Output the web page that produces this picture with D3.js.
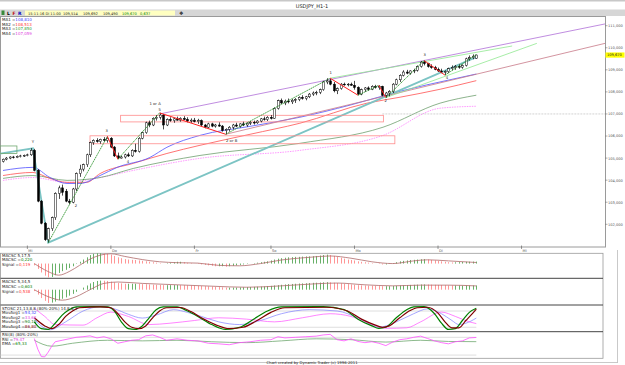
<!DOCTYPE html>
<html>
<head>
<meta charset="utf-8">
<script src="https://cdn.jsdelivr.net/npm/d3@7"></script>
<style>
body { margin: 0; background: #fff; }
svg { display: block; font-family: "DejaVu Sans", sans-serif; }
text { font-size: 4px; fill: #222; }
</style>
</head>
<body>
<svg id="chart" width="625" height="365"></svg>
<script>
// ---- data (hourly USDJPY, candle index 0..136) ----
var candles = [
  [104.85,104.98,104.80,104.95],[104.95,105.05,104.90,105.00],[105.00,105.08,104.95,105.05],[105.05,105.10,104.98,105.02],
  [105.02,105.12,105.00,105.08],[105.08,105.15,105.03,105.10],[105.10,105.16,105.05,105.12],[105.12,105.20,105.08,105.15],
  [105.15,105.45,105.10,105.35],[105.35,105.42,104.40,104.45],[104.45,104.50,103.00,103.05],[103.05,103.10,102.00,102.05],
  [102.05,102.10,101.25,101.30],[101.30,101.85,101.17,101.80],[101.80,102.35,101.70,102.30],[102.30,103.45,102.20,103.40],
  [103.40,103.75,103.15,103.65],[103.65,103.80,103.30,103.45],[103.50,103.60,103.00,103.05],[103.05,103.15,102.90,103.00],
  [103.00,103.65,102.95,103.60],[103.60,104.35,103.50,104.30],[104.30,104.70,104.15,104.50],[104.50,104.75,104.40,104.70],
  [104.70,105.20,104.60,105.15],[105.15,105.75,105.05,105.70],[105.70,105.85,105.60,105.80],[105.80,105.90,105.70,105.75],
  [105.75,105.88,105.65,105.85],[105.85,105.95,105.75,105.80],[105.80,105.98,105.70,105.90],[105.90,105.95,105.45,105.50],
  [105.50,105.55,105.05,105.10],[105.10,105.25,104.95,105.00],[105.00,105.10,104.98,105.05],[105.05,105.20,104.98,105.15],
  [105.15,105.25,105.05,105.10],[105.10,105.40,105.05,105.35],[105.35,105.65,105.25,105.30],[105.30,105.95,105.25,105.90],
  [105.90,106.20,105.85,106.15],[106.15,106.65,106.10,106.60],[106.60,106.70,106.40,106.50],[106.50,106.85,106.45,106.80],
  [106.80,106.95,106.70,106.85],[106.85,107.05,106.75,106.95],[106.95,107.00,106.30,106.50],[106.50,106.80,106.45,106.75],
  [106.75,106.85,106.65,106.70],[106.70,106.82,106.60,106.78],[106.78,106.88,106.70,106.72],[106.72,106.85,106.65,106.80],
  [106.80,106.90,106.72,106.75],[106.75,106.85,106.62,106.68],[106.68,106.80,106.60,106.72],[106.72,106.82,106.62,106.65],
  [106.65,106.78,106.55,106.70],[106.70,106.75,106.45,106.50],[106.50,106.55,106.35,106.40],[106.40,106.60,106.35,106.55],
  [106.55,106.60,106.40,106.45],[106.45,106.55,106.38,106.50],[106.50,106.62,106.42,106.45],[106.45,106.50,106.20,106.25],
  [106.25,106.35,106.08,106.30],[106.30,106.45,106.20,106.40],[106.40,106.55,106.30,106.50],[106.50,106.60,106.40,106.45],
  [106.45,106.58,106.38,106.55],[106.55,106.65,106.45,106.50],[106.50,106.62,106.42,106.58],[106.58,106.68,106.50,106.62],
  [106.62,106.70,106.52,106.60],[106.60,106.72,106.55,106.68],[106.68,106.82,106.62,106.78],[106.78,106.88,106.70,106.75],
  [106.75,106.90,106.68,106.85],[106.85,106.95,106.75,106.80],[106.80,107.30,106.78,107.25],[107.25,107.65,107.20,107.60],
  [107.60,107.70,107.45,107.50],[107.50,107.65,107.40,107.58],[107.58,107.70,107.48,107.55],[107.55,107.68,107.45,107.62],
  [107.62,107.72,107.50,107.65],[107.65,107.80,107.58,107.75],[107.75,107.85,107.65,107.70],[107.70,107.82,107.62,107.78],
  [107.78,107.95,107.72,107.90],[107.90,108.02,107.82,107.95],[107.95,108.05,107.85,107.98],[107.98,108.15,107.90,108.10],
  [108.10,108.50,108.05,108.45],[108.45,108.62,108.35,108.50],[108.50,108.60,108.30,108.35],[108.35,108.45,107.98,108.05],
  [108.05,108.20,107.90,108.15],[108.15,108.40,108.10,108.35],[108.35,108.42,108.28,108.32],[108.32,108.40,108.25,108.35],
  [108.35,108.42,108.28,108.30],[108.30,108.50,108.10,108.20],[108.20,108.25,107.85,107.90],[107.90,108.15,107.85,108.10],
  [108.10,108.22,108.00,108.18],[108.18,108.25,108.05,108.12],[108.12,108.30,108.08,108.25],[108.25,108.32,108.15,108.20],
  [108.20,108.30,108.10,108.25],[108.25,108.28,107.80,107.85],[107.85,108.00,107.74,107.95],[107.95,108.08,107.80,108.02],
  [108.02,108.40,107.95,108.35],[108.35,108.60,108.30,108.55],[108.55,108.80,108.45,108.75],[108.75,108.98,108.70,108.90],
  [108.90,109.00,108.80,108.85],[108.85,108.98,108.78,108.95],[108.95,109.05,108.85,108.98],[108.98,109.20,108.92,109.15],
  [109.15,109.40,109.10,109.35],[109.35,109.42,109.20,109.28],[109.28,109.32,109.10,109.15],[109.15,109.25,109.05,109.10],
  [109.10,109.18,108.98,109.02],[109.02,109.10,108.90,108.95],[108.95,109.05,108.85,108.90],[108.90,108.98,108.76,108.92],
  [108.92,109.10,108.85,109.05],[109.05,109.20,108.98,109.10],[109.10,109.22,109.00,109.15],[109.15,109.25,109.05,109.12],
  [109.12,109.25,109.05,109.20],[109.20,109.55,109.15,109.50],[109.50,109.65,109.42,109.55],[109.55,109.70,109.48,109.62],
  [109.514,109.692,109.490,109.670]
];

// moving averages, sampled [index, price]
var ma1 = [[0,104.44],[8.6,104.58],[13.5,104.12],[18.4,103.85],[22.1,103.85],[27.9,104.21],[32.8,104.58],[42.2,105.03],[47.1,105.49],[56.6,106.03],[71,106.44],[85.3,106.85],[99.7,107.40],[114.1,108.03],[129.3,108.58],[136,108.81]];
var ma2 = [[0,104.21],[8.6,104.35],[13.5,104.08],[18.4,103.90],[24,103.90],[27.9,104.30],[37.4,104.76],[47.1,105.21],[56.6,105.58],[71,106.08],[85.3,106.58],[104.6,107.49],[114.1,107.76],[125.6,108.12],[136,108.51]];
var ma3 = [[0,104.08],[8.6,104.21],[18.4,103.99],[27.9,104.12],[37.4,104.53],[56.6,105.12],[85.3,105.67],[109.2,106.40],[125.6,107.49],[136,107.85]];
var ma4 = [[0,103.99],[8.6,104.12],[18.4,103.90],[27.9,104.12],[37.4,104.44],[56.6,104.99],[85.3,105.35],[109.2,106.03],[125.6,107.26],[136,107.35]];

// drawn objects, [index, price]
var tealLine = [[-0.9,105.20],[8.6,105.44],[13,101.17],[136.3,109.60]];
var purpleLine = [[45,107.00],[173,111.08]];
var roseLine = [[64,106.08],[173,110.20]];
var greenLine1 = [[94,108.62],[146.3,110.08]];
var greenLine2 = [[110,107.74],[153.4,110.20]];
var levelLine = [[109,107.0],[173,107.0]];
var waves = [[13,101.17],[30,105.98],[33,104.95],[45,107.05],[64,106.08],[94,108.62],[102,107.85],[108,108.30],[110,107.74],[121,109.42],[127,108.76],[136,109.69]];
var boxes = [[33.8,106.94,109.3,106.64],[25,106.01,112.6,105.65]];
var greenBox = [-0.9,105.55,4,105.21];
var waveLabels = [["Y",8.6,105.68],["2",21,102.8],["3",29.8,106.2],["4",35.9,104.8],["1 or A",43.7,107.40],["5",45,107.13],["2 or B",65.7,105.75],["1",94.2,108.82],["2",110,107.55],["3",121.2,109.62],["4",127.6,108.57]];

var priceTicks = [111,110,109,108,107,106,105,104,103,102];
var dayTicks = [7,31,55,77,101,125,149];
var dayLabels = ["Mi","Do","Fr","So","Mo","Di","Mi"];

// MACSC 5,17,5 histogram, index 9..136
var macd1 = [-0.2,-0.6,-1.0,-1.35,-1.55,
  -1.5,-1.3,-1.05,-0.85,-0.7,-0.5,-0.3,-0.05,0.2,0.45,0.7,0.95,1.1,1.2,
  1.22,1.18,1.12,1.0,0.85,0.7,0.6,0.5,0.45,0.42,0.4,0.35,0.3,0.25,0.2,0.15,0.1,0.05,
  0.0,0.05,0.1,0.15,0.2,0.2,0.15,0.1,0.05,0.0,-0.05,
  -0.1,-0.15,-0.2,-0.25,-0.3,-0.3,-0.3,-0.35,-0.3,-0.25,
  -0.2,-0.15,-0.1,-0.05,0.0,0.05,0.1,0.15,0.2,0.25,0.35,0.45,0.55,
  0.6,0.65,0.7,0.72,0.75,0.75,0.78,0.8,0.8,0.82,0.85,0.9,0.95,1.0,0.95,
  0.85,0.75,0.65,0.55,0.45,0.4,0.35,0.25,0.2,0.15,0.1,0.05,0.0,-0.05,
  -0.1,-0.1,-0.05,0.05,0.15,0.25,0.3,0.35,0.4,0.42,0.45,0.48,0.5,
  0.45,0.4,0.35,0.3,0.25,0.2,0.15,0.12,0.14,0.16,0.18,0.2,0.21,0.22,0.22];
var signal1 = [[9,0],[13,-0.9],[16,-1.3],[19,-0.9],[22,-0.2],[25,0.5],[28,0.95],[31,1.1],[35,0.8],[40,0.45],[45,0.2],[50,0.1],[56,0.05],[62,-0.2],[68,-0.25],[74,0],[80,0.4],[88,0.7],[94,0.85],[100,0.6],[106,0.2],[112,0],[118,0.3],[122,0.42],[128,0.3],[136,0.12]];

// MACSC 5,34,5 histogram, index 9..136
var macd2 = [-0.2,-0.7,-1.2,-1.6,-1.9,
  -1.85,-1.7,-1.5,-1.3,-1.1,-0.85,-0.6,-0.3,0.0,0.3,0.6,0.9,1.1,1.25,
  1.3,1.28,1.25,1.15,1.05,0.95,0.9,0.85,0.85,0.85,0.85,0.82,0.8,0.78,0.75,0.72,0.7,0.68,
  0.65,0.65,0.65,0.66,0.66,0.65,0.64,0.62,0.6,0.58,0.55,
  0.52,0.5,0.47,0.44,0.4,0.37,0.34,0.3,0.3,0.3,
  0.3,0.32,0.34,0.36,0.38,0.4,0.42,0.44,0.46,0.5,0.55,0.6,0.65,
  0.7,0.75,0.8,0.82,0.85,0.88,0.9,0.92,0.95,0.98,1.0,1.02,1.05,1.08,1.05,
  1.0,0.95,0.9,0.85,0.8,0.75,0.7,0.65,0.62,0.6,0.58,0.56,0.54,0.52,
  0.5,0.5,0.5,0.52,0.55,0.6,0.62,0.65,0.68,0.7,0.72,0.74,0.75,
  0.74,0.72,0.7,0.68,0.66,0.64,0.62,0.6,0.6,0.6,0.6,0.6,0.6,0.6,0.6];
var signal2 = [[9,0],[13,-1.0],[17,-1.5],[21,-1.0],[25,0.0],[29,0.9],[33,1.1],[40,0.9],[50,0.7],[60,0.5],[70,0.35],[80,0.55],[90,0.85],[96,0.95],[104,0.7],[112,0.55],[120,0.65],[128,0.65],[136,0.54]];

// STOSC lines, [index, value]
var stoBlue = [[9,48],[13.5,11],[18,40],[23,80],[28,96],[32,88],[36,68],[40,54],[44,65],[49,85],[53,75],[57,60],[62,40],[68,30],[74,45],[80,70],[88,85],[96,80],[102,55],[108,20],[113,40],[118,70],[122,88],[126,70],[129,45],[131,30],[133,35],[136,54]];
var stoPink = [[9,90],[12,60],[15,30],[23,28],[27,55],[31,76],[36,60],[42,30],[48,35],[55,45],[62,55],[70,50],[78,40],[86,55],[94,70],[100,60],[106,30],[110,16],[116,18],[120,40],[126,76],[130,60],[134,40],[136,33.6]];
var stoGreen = [[9,40],[11,15],[13,12],[15,35],[17,65],[19,85],[21,95],[26,96],[30,95],[32,80],[34,40],[36,15],[38,12],[40,25],[42,55],[44,85],[46,95],[50,95],[53,80],[56,60],[60,30],[64,12],[68,20],[72,50],[76,80],[80,95],[92,96],[98,85],[102,50],[106,25],[108,16],[110,20],[113,55],[116,85],[118,95],[121,96],[124,70],[126,35],[128,12],[130,15],[132,45],[134,75],[136,90.1]];
var stoRed = [[9,55],[12,25],[14,15],[16,30],[18,60],[20,80],[22,92],[28,95],[31,92],[33,70],[35,40],[37,20],[39,15],[41,25],[43,55],[45,80],[47,92],[51,93],[54,78],[57,55],[61,30],[65,15],[69,20],[73,45],[77,75],[81,92],[93,94],[99,80],[103,50],[107,28],[109,20],[111,25],[114,55],[117,82],[119,92],[122,94],[125,72],[127,40],[129,18],[131,18],[133,45],[135,72],[136,86.8]];

// RSI and its EMA, [index, value]
var rsi = [[9,76],[10,40],[11,15],[12,14],[13,30],[14,50],[15,65],[17,70],[19,75],[21,80],[23,82],[25,85],[27,78],[29,82],[31,75],[33,60],[35,65],[37,70],[39,72],[41,85],[43,88],[45,80],[47,70],[50,75],[53,70],[56,68],[59,60],[62,58],[65,55],[68,62],[71,65],[74,70],[77,72],[79,82],[81,78],[84,80],[87,82],[90,84],[92,88],[94,90],[96,72],[98,68],[100,75],[102,66],[104,62],[106,65],[108,60],[110,52],[112,64],[114,72],[116,75],[118,80],[120,84],[122,76],[124,68],[126,62],[128,58],[130,65],[132,68],[134,78],[136,79.5]];
var rsiEma = [[9,70],[14,50],[20,60],[30,70],[40,68],[50,70],[60,65],[70,62],[80,68],[90,75],[100,72],[110,64],[120,70],[128,66],[136,65.3]];

// ---- scales ----
var svg = d3.select("#chart");
var x = d3.scaleLinear().domain([0, 136]).range([3, 476.3]);
var y = d3.scaleLinear().domain([102, 111]).range([224.3, 25.7]);
var y1 = d3.scaleLinear().domain([-1.65, 1.15]).range([278.3, 253.3]);
var y2 = d3.scaleLinear().domain([-2.19, 1.63]).range([305, 278.3]);
var y3 = d3.scaleLinear().domain([0, 100]).range([332.7, 305.6]);
var y4 = d3.scaleLinear().domain([0, 100]).range([361, 331.4]);

var defs = svg.append("defs");
defs.append("clipPath").attr("id", "mainClip").append("rect").attr("x", 0).attr("y", 17).attr("width", 605).attr("height", 230);
[[253.3, 278.3], [278.3, 305], [305, 331.7], [331.7, 358.3]].forEach(function(p, k) {
    defs.append("clipPath").attr("id", "pClip" + k).append("rect")
        .attr("x", 0).attr("y", p[0]).attr("width", 603).attr("height", p[1] - p[0]);
});

// ---- window chrome ----
svg.append("rect").attr("x", 0).attr("y", 0).attr("width", 625).attr("height", 1.5).attr("fill", "#c8c8c8");
svg.append("text").attr("x", 312).attr("y", 7.5).attr("text-anchor", "middle")
    .style("font-size", "5px").text("USDJPY_H1-1");
svg.append("rect").attr("x", 0).attr("y", 9.5).attr("width", 625).attr("height", 6.5).attr("fill", "#d6d6d6");
svg.append("rect").attr("x", 1.5).attr("y", 10.5).attr("width", 3).attr("height", 4.5).attr("fill", "#3a8a3a");
[["L", 7, "#000"], ["F", 12.5, "#c00000"], ["R", 18, "#0000c0"]].forEach(function(b) {
    svg.append("text").attr("x", b[1]).attr("y", 14.6).style("font-size", "4.5px")
        .style("font-weight", "bold").style("fill", b[2]).text(b[0]);
});
svg.append("rect").attr("x", 25).attr("y", 10.5).attr("width", 150).attr("height", 5).attr("fill", "#ffffc0");
var info = [["15-11-16 Di 11:00", 28, "#222"], ["109,514", 63, "#222"], ["109,692", 83, "#222"],
            ["109,490", 103, "#222"], ["109,670", 122, "#008000"], ["0,637", 140, "#008000"]];
info.forEach(function(t) {
    svg.append("text").attr("x", t[1]).attr("y", 14.5).style("font-size", "3.6px").style("fill", t[2]).text(t[0]);
});
svg.append("text").attr("x", 179).attr("y", 14.8).style("font-size", "5px").text("\u2756");

// ---- main price panel ----
svg.append("rect").attr("x", 0.5).attr("y", 16.5).attr("width", 605).attr("height", 230.5)
    .attr("fill", "none").attr("stroke", "#9a9a9a").attr("stroke-width", 1);

var main = svg.append("g").attr("clip-path", "url(#mainClip)");
var line = d3.line().x(function(d) { return x(d[0]); }).y(function(d) { return y(d[1]); });
var smooth = d3.line().x(function(d) { return x(d[0]); }).y(function(d) { return y(d[1]); }).curve(d3.curveMonotoneX);

// moving averages
main.append("path").attr("d", smooth(ma4)).attr("fill", "none").attr("stroke", "#ff80ff").attr("stroke-width", 0.8).attr("stroke-dasharray", "1.5,1");
main.append("path").attr("d", smooth(ma3)).attr("fill", "none").attr("stroke", "#6f9f6f").attr("stroke-width", 0.8);
main.append("path").attr("d", smooth(ma2)).attr("fill", "none").attr("stroke", "#ff5050").attr("stroke-width", 0.8);
main.append("path").attr("d", smooth(ma1)).attr("fill", "none").attr("stroke", "#5050ff").attr("stroke-width", 0.8);

// trend lines
main.append("path").attr("d", line(levelLine)).attr("stroke", "#c8c8c8").attr("stroke-width", 0.8).attr("stroke-dasharray", "2,1");
main.append("path").attr("d", line(tealLine)).attr("fill", "none").attr("stroke", "#7cc4c4").attr("stroke-width", 1.8);
main.append("path").attr("d", line(purpleLine)).attr("stroke", "#b070d8").attr("stroke-width", 0.8);
main.append("path").attr("d", line(roseLine)).attr("stroke", "#c87888").attr("stroke-width", 0.8);
main.append("path").attr("d", line(greenLine1)).attr("stroke", "#90e890").attr("stroke-width", 0.8);
main.append("path").attr("d", line(greenLine2)).attr("stroke", "#90e890").attr("stroke-width", 0.8);

// zones
main.selectAll(".zone").data(boxes).enter().append("rect")
    .attr("x", function(d) { return x(d[0]); })
    .attr("y", function(d) { return y(d[1]); })
    .attr("width", function(d) { return x(d[2]) - x(d[0]); })
    .attr("height", function(d) { return y(d[3]) - y(d[1]); })
    .attr("fill", "none").attr("stroke", "#ff8c8c").attr("stroke-width", 0.8);
main.append("rect").attr("x", x(greenBox[0])).attr("y", y(greenBox[1]))
    .attr("width", x(greenBox[2]) - x(greenBox[0])).attr("height", y(greenBox[3]) - y(greenBox[1]))
    .attr("fill", "none").attr("stroke", "#70a870").attr("stroke-width", 0.8);

// candles
var cg = main.selectAll(".candle").data(candles).enter().append("g");
cg.append("line")
    .attr("x1", function(d, i) { return Math.round(x(i)) + 0.5; })
    .attr("x2", function(d, i) { return Math.round(x(i)) + 0.5; })
    .attr("y1", function(d) { return y(d[1]); })
    .attr("y2", function(d) { return y(d[2]); })
    .attr("stroke", "#000").attr("stroke-width", 0.7);
cg.append("rect")
    .attr("x", function(d, i) { return Math.round(x(i)) - 0.5; })
    .attr("y", function(d) { return y(Math.max(d[0], d[3])); })
    .attr("width", 2)
    .attr("height", function(d) { return Math.max(0.7, Math.abs(y(d[0]) - y(d[3]))); })
    .attr("fill", function(d) { return d[3] >= d[0] ? "#fff" : "#000"; })
    .attr("stroke", "#000").attr("stroke-width", 0.5);

// wave count lines
for (var k = 0; k < waves.length - 1; k++) {
    main.append("path").attr("d", line([waves[k], waves[k + 1]]))
        .attr("stroke", waves[k + 1][1] > waves[k][1] ? "#1a8a1a" : "#ff2020")
        .attr("stroke-width", waves[k + 1][1] > waves[k][1] ? 0.8 : 1)
        .attr("stroke-dasharray", waves[k + 1][1] > waves[k][1] ? "1.5,0.6" : null);
}
main.selectAll(".wl").data(waveLabels).enter().append("text")
    .attr("x", function(d) { return x(d[1]); })
    .attr("y", function(d) { return y(d[2]); })
    .attr("text-anchor", "middle").style("font-size", "3.8px").text(function(d) { return d[0]; });

// moving average legend
var maText = [["MA1 =", "108,810", "#4040ff"], ["MA2 =", "108,513", "#ff3030"], ["MA3 =", "107,850", "#30a030"], ["MA4 =", "107,059", "#e040e0"]];
maText.forEach(function(t, i) {
    var tx = svg.append("text").attr("x", 2).attr("y", 21 + i * 4.7);
    tx.append("tspan").text(t[0]);
    tx.append("tspan").style("fill", t[2]).text(t[1]);
});

// price axis
priceTicks.forEach(function(p) {
    svg.append("line").attr("x1", 605).attr("x2", 607.5).attr("y1", y(p)).attr("y2", y(p)).attr("stroke", "#777").attr("stroke-width", 0.6);
    svg.append("text").attr("x", 608).attr("y", y(p) + 1.4).style("font-size", "3.6px").style("fill", "#555")
        .text(d3.format(",.3f")(p).replace(".", ","));
});
var last = candles[candles.length - 1][3];
svg.append("rect").attr("x", 605.5).attr("y", y(last) - 2.6).attr("width", 19).attr("height", 5.2).attr("fill", "#ffff00");
svg.append("text").attr("x", 607).attr("y", y(last) + 1.3).style("font-size", "3.6px").text("109,670");

// time axis
dayTicks.forEach(function(t, i) {
    svg.append("line").attr("x1", x(t)).attr("x2", x(t)).attr("y1", 245.5).attr("y2", 249)
        .attr("stroke", "#555").attr("stroke-width", 0.6);
    svg.append("text").attr("x", x(t) + 1).attr("y", 252.2).style("font-size", "3.6px").style("fill", "#555").text(dayLabels[i]);
});

// ---- indicator panels ----
svg.append("rect").attr("x", 0.5).attr("y", 253.3).attr("width", 602.5).attr("height", 105)
    .attr("fill", "none").attr("stroke", "#9a9a9a").attr("stroke-width", 0.8);
[278.3, 305, 331.7].forEach(function(v) {
    svg.append("line").attr("x1", 0.5).attr("x2", 603).attr("y1", v).attr("y2", v).attr("stroke", "#444").attr("stroke-width", 1);
});
svg.append("line").attr("x1", 617.5).attr("x2", 617.5).attr("y1", 250).attr("y2", 362.5).attr("stroke", "#bbb").attr("stroke-width", 0.8);
svg.append("line").attr("x1", 0).attr("x2", 618).attr("y1", 362.5).attr("y2", 362.5).attr("stroke", "#bbb").attr("stroke-width", 0.8);

function histogram(vals, ys, clip) {
    var g = svg.append("g").attr("clip-path", "url(#" + clip + ")");
    g.selectAll("line").data(vals).enter().append("line")
        .attr("x1", function(d, i) { return Math.round(x(i + 9)) + 0.5; })
        .attr("x2", function(d, i) { return Math.round(x(i + 9)) + 0.5; })
        .attr("y1", ys(0))
        .attr("y2", function(d) { return ys(d); })
        .attr("stroke", function(d, i) { return (i > 0 && d >= vals[i - 1]) ? "#58a858" : "#ff8a8a"; })
        .attr("stroke-width", 0.9);
    return g;
}
function curve(g, data, ys, color, w, c) {
    g.append("path").datum(data)
        .attr("d", d3.line().x(function(d) { return x(d[0]); }).y(function(d) { return ys(d[1]); }).curve(c || d3.curveMonotoneX))
        .attr("fill", "none").attr("stroke", color).attr("stroke-width", w);
}

var g1 = histogram(macd1, y1, "pClip0");
curve(g1, signal1, y1, "#b06a6a", 0.8);
var g2 = histogram(macd2, y2, "pClip1");
curve(g2, signal2, y2, "#b06a6a", 0.8);

var g3 = svg.append("g").attr("clip-path", "url(#pClip2)");
[80, 20].forEach(function(v) {
    g3.append("line").attr("x1", 0).attr("x2", x(136)).attr("y1", y3(v)).attr("y2", y3(v)).attr("stroke", "#c8c8c8").attr("stroke-width", 0.6);
});
curve(g3, stoBlue, y3, "#8080ff", 0.7);
curve(g3, stoPink, y3, "#ff50ff", 0.7);
curve(g3, stoGreen, y3, "#008000", 1.2);
curve(g3, stoRed, y3, "#800000", 1.2);

var g4 = svg.append("g").attr("clip-path", "url(#pClip3)");
[80, 20].forEach(function(v) {
    g4.append("line").attr("x1", 0).attr("x2", x(136)).attr("y1", y4(v)).attr("y2", y4(v)).attr("stroke", "#c8c8c8").attr("stroke-width", 0.6);
});
curve(g4, rsiEma, y4, "#70a870", 0.8);
curve(g4, rsi, y4, "#ff50ff", 0.8, d3.curveLinear);

// panel legends
var legends = [
    [255.8, [["MACSC 5,17,5", "#222"]]],
    [260.3, [["MACSC =", "#222"], ["0,220", "#008000"]]],
    [264.6, [["Signal =", "#222"], ["0,119", "#ff3030"]]],
    [282, [["MACSC 5,34,5", "#222"]]],
    [286.8, [["MACSC =", "#222"], ["0,603", "#008000"]]],
    [291.5, [["Signal =", "#222"], ["0,538", "#ff3030"]]],
    [308.6, [["STOSC 21,13,8,8 (80%-20%) 14,8,8,3", "#222"]]],
    [313.3, [["MovAvg1 =", "#222"], ["54,32", "#4040ff"]]],
    [317.8, [["MovAvg2 =", "#222"], ["33,62", "#e040e0"]]],
    [322.3, [["MovAvg3 =", "#222"], ["90,10", "#008000"]]],
    [326.8, [["MovAvg4 =", "#222"], ["86,80", "#800000"]]],
    [335.3, [["RSI(8) (80%-20%)", "#222"]]],
    [339.6, [["RSI =", "#222"], ["79,47", "#e040e0"]]],
    [343.8, [["EMA =", "#222"], ["65,33", "#008000"]]]
];
legends.forEach(function(l) {
    var t = svg.append("text").attr("x", 2).attr("y", l[0] + 1);
    l[1].forEach(function(s) { t.append("tspan").style("fill", s[1]).text(s[0]); });
});

svg.append("text").attr("x", 312).attr("y", 363.5).attr("text-anchor", "middle").style("font-size", "3.8px")
    .text("Chart created by Dynamic Trader (c) 1996-2011");
</script>
</body>
</html>
